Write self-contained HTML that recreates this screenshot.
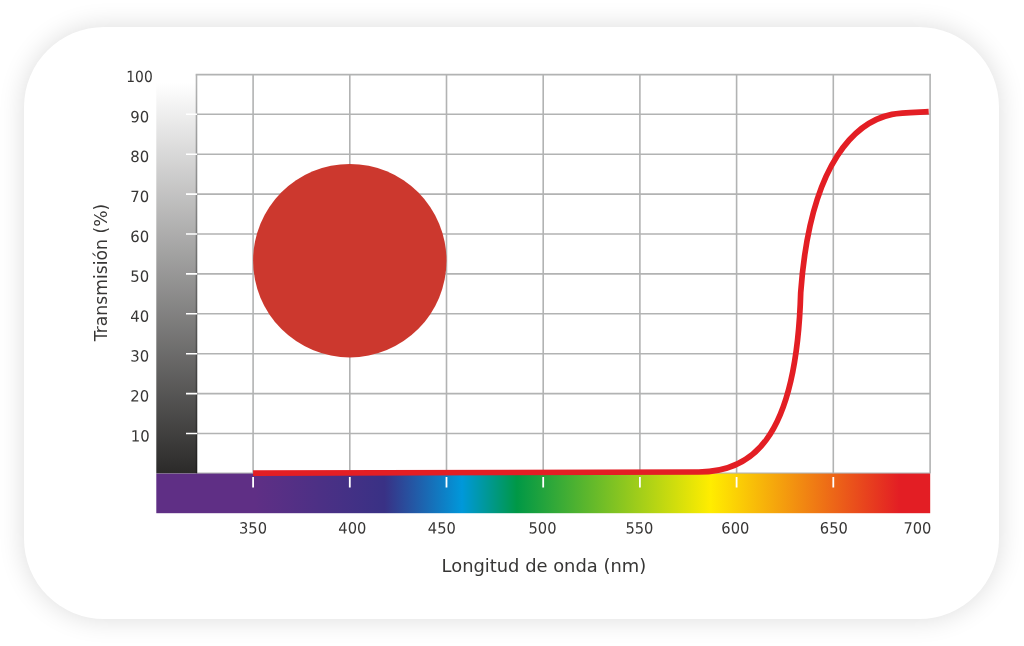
<!DOCTYPE html>
<html lang="es">
<head>
<meta charset="utf-8">
<title>Transmisión</title>
<style>
html,body{margin:0;padding:0;background:#fff;}
body{width:1024px;height:646px;overflow:hidden;position:relative;font-family:"Liberation Sans",sans-serif;}
.card{position:absolute;left:24px;top:26.5px;width:975.3px;height:592.4px;border-radius:80px;background:#fff;box-shadow:0 0 27px rgba(0,0,0,0.14);}
svg{position:absolute;left:0;top:0;}
text{font-family:"DejaVu Sans","Liberation Sans",sans-serif;fill:#373635;}
</style>
</head>
<body>
<div class="card"></div>
<svg width="1024" height="646" viewBox="0 0 1024 646">
<defs>
<linearGradient id="gray" x1="0" y1="0" x2="0" y2="1">
<stop offset="0" stop-color="#ffffff"/>
<stop offset="1" stop-color="#2b2a29"/>
</linearGradient>
<linearGradient id="spec" x1="0" y1="0" x2="1" y2="0">
<stop offset="0" stop-color="#5f2f85"/>
<stop offset="0.127" stop-color="#5f2f85"/>
<stop offset="0.295" stop-color="#393185"/>
<stop offset="0.395" stop-color="#0098da"/>
<stop offset="0.466" stop-color="#009846"/>
<stop offset="0.716" stop-color="#ffed00"/>
<stop offset="0.96" stop-color="#e31e24"/>
<stop offset="1" stop-color="#e31e24"/>
</linearGradient>
</defs>
<!-- grid -->
<g stroke="#b2b3b3" stroke-width="1.6" fill="none">
<path d="M195.7 74.6H930.9M196.5 114.3H930M196.5 154.2H930M196.5 194.1H930M196.5 234H930M196.5 273.9H930M196.5 313.8H930M196.5 353.7H930M196.5 393.6H930M196.5 433.5H930M196.5 473.4H930"/>
<path d="M196.5 74.6V473.4M253.1 74.4V473.4M349.8 74.4V473.4M446.5 74.4V473.4M543.2 74.4V473.4M639.9 74.4V473.4M736.6 74.4V473.4M833.3 74.4V473.4M930.1 74.6V473.4"/>
</g>
<!-- gray scale bar -->
<rect x="156.3" y="83" width="40.9" height="390.5" fill="url(#gray)" style="mix-blend-mode:multiply"/>
<!-- white ticks on gray bar -->
<g stroke="#fff" stroke-width="1.6">
<path d="M186 114.3H197M186 154.2H197M186 194.1H197M186 234H197M186 273.9H197M186 313.8H197M186 353.7H197M186 393.6H197M186 433.5H197"/>
</g>
<!-- spectrum -->
<rect x="156.3" y="473.6" width="773.9" height="39.6" fill="url(#spec)"/>
<g stroke="#fff" stroke-width="1.8">
<path d="M253.1 477V487.5M349.8 477V487.5M446.5 477V487.5M543.2 477V487.5M639.9 477V487.5M736.6 477V487.5M833.3 477V487.5"/>
</g>
<!-- circle -->
<circle cx="349.8" cy="260.7" r="96.7" fill="#cc382e"/>
<!-- curve -->
<path d="M253.1 473.2L698.8 472.0C747.5 471.9 796.4 445.6 800.7 292.6C810.4 158.2 858.3 121.4 891.9 114.4C900.2 112.7 915.0 112.4 928.7 111.7" fill="none" stroke="#e31e24" stroke-width="5.7" stroke-linejoin="round"/>
<!-- labels -->
<g font-size="15.5" text-anchor="middle" lengthAdjust="spacingAndGlyphs">
<text transform="rotate(0.03 139.5 82.2)" x="139.5" y="82.2" textLength="26.4" lengthAdjust="spacingAndGlyphs">100</text>
<text transform="rotate(0.03 139.7 122.2)" x="139.7" y="122.2" textLength="18.9" lengthAdjust="spacingAndGlyphs">90</text>
<text transform="rotate(0.03 139.7 162.1)" x="139.7" y="162.1" textLength="18.9" lengthAdjust="spacingAndGlyphs">80</text>
<text transform="rotate(0.03 139.7 202.0)" x="139.7" y="202.0" textLength="18.9" lengthAdjust="spacingAndGlyphs">70</text>
<text transform="rotate(0.03 139.7 241.9)" x="139.7" y="241.9" textLength="18.9" lengthAdjust="spacingAndGlyphs">60</text>
<text transform="rotate(0.03 139.7 281.8)" x="139.7" y="281.8" textLength="18.9" lengthAdjust="spacingAndGlyphs">50</text>
<text transform="rotate(0.03 139.7 321.7)" x="139.7" y="321.7" textLength="18.9" lengthAdjust="spacingAndGlyphs">40</text>
<text transform="rotate(0.03 139.7 361.6)" x="139.7" y="361.6" textLength="18.9" lengthAdjust="spacingAndGlyphs">30</text>
<text transform="rotate(0.03 139.7 401.5)" x="139.7" y="401.5" textLength="18.9" lengthAdjust="spacingAndGlyphs">20</text>
<text transform="rotate(0.03 140.2 441.4)" x="140.2" y="441.4" textLength="18.9" lengthAdjust="spacingAndGlyphs">10</text>
<text transform="rotate(0.03 253.0 533.6)" x="253.0" y="533.6" textLength="28.0" lengthAdjust="spacingAndGlyphs">350</text>
<text transform="rotate(0.03 352.3 533.6)" x="352.3" y="533.6" textLength="28.0" lengthAdjust="spacingAndGlyphs">400</text>
<text transform="rotate(0.03 441.8 533.6)" x="441.8" y="533.6" textLength="28.0" lengthAdjust="spacingAndGlyphs">450</text>
<text transform="rotate(0.03 542.5 533.6)" x="542.5" y="533.6" textLength="28.0" lengthAdjust="spacingAndGlyphs">500</text>
<text transform="rotate(0.03 639.4 533.6)" x="639.4" y="533.6" textLength="28.0" lengthAdjust="spacingAndGlyphs">550</text>
<text transform="rotate(0.03 735.3 533.6)" x="735.3" y="533.6" textLength="28.0" lengthAdjust="spacingAndGlyphs">600</text>
<text transform="rotate(0.03 833.8 533.6)" x="833.8" y="533.6" textLength="28.0" lengthAdjust="spacingAndGlyphs">650</text>
<text transform="rotate(0.03 917.4 533.6)" x="917.4" y="533.6" textLength="28.0" lengthAdjust="spacingAndGlyphs">700</text>
</g>
<text x="543.85" y="571.5" font-size="16.9" text-anchor="middle" textLength="204.6" lengthAdjust="spacingAndGlyphs">Longitud de onda (nm)</text>
<text transform="translate(107.1 272.5) rotate(-90)" font-size="16.9" text-anchor="middle" textLength="137.5" lengthAdjust="spacingAndGlyphs">Transmisión (%)</text>
</svg>
</body>
</html>
